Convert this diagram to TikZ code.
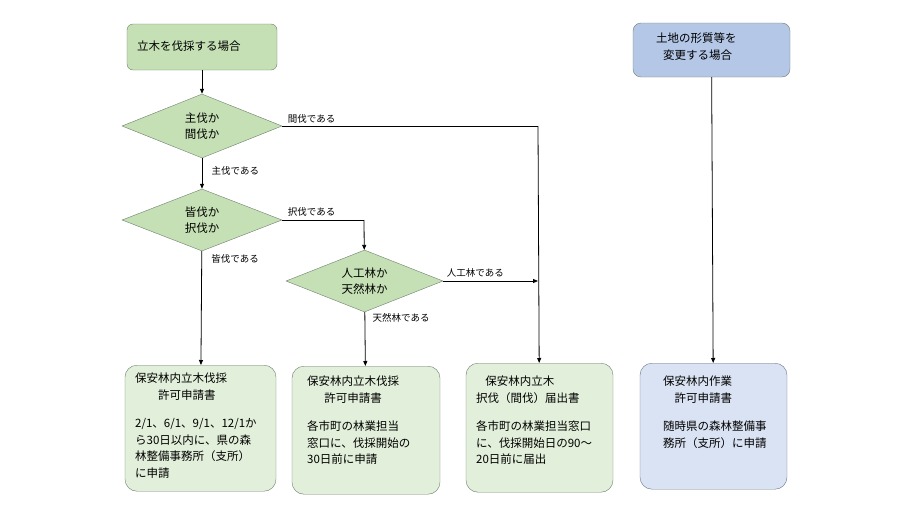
\documentclass[tikz,border=0pt]{standalone}
\usepackage{fontspec}
\setmainfont{Noto Sans CJK JP}
\usetikzlibrary{shapes.geometric,arrows.meta}
\definecolor{gA}{HTML}{C5E0B4}
\definecolor{gB}{HTML}{E2EFDA}
\definecolor{bA}{HTML}{B4C7E7}
\definecolor{bB}{HTML}{DAE3F3}
\definecolor{bd}{HTML}{6F7F6F}
\begin{document}
\begin{tikzpicture}[x=1pt,y=-1pt,font=\fontsize{11.5}{16.5}\selectfont,
 box/.style={draw=bd,rounded corners=12pt,inner sep=0pt},
 txt/.style={anchor=north west,inner sep=0pt,align=left},
 dia/.style={diamond,draw=bd,fill=gA,aspect=2.5,inner sep=0pt,align=center},
 lab/.style={font=\fontsize{9.5}{11}\selectfont,anchor=west},
 arr/.style={-{Triangle[length=5pt,width=4pt]},line width=0.8pt},
 ln/.style={line width=0.8pt}]
\useasboundingbox (0,0) rectangle (913,514);
\node[box,rounded corners=6pt,fill=gA,minimum width=150pt,minimum height=46pt] (s) at (202,47) {};
\node[txt,anchor=west] (st) at (137,46) {立木を伐採する場合};
\node[box,rounded corners=8pt,fill=bA,minimum width=157pt,minimum height=54pt] (t) at (711.5,50) {};
\node[txt] (tt) at (656,33) {土地の形質等を\\\hspace*{0.6em}変更する場合};
\node[dia,minimum width=160pt,minimum height=64pt] (d1) at (202,126) {主伐か\\間伐か};
\node[dia,minimum width=160pt,minimum height=62pt] (d2) at (202,220) {皆伐か\\択伐か};
\node[dia,minimum width=157pt,minimum height=62pt] (d3) at (364.5,281) {人工林か\\天然林か};
\node[box,fill=gB,minimum width=151pt,minimum height=126pt,anchor=north] (a) at (200.5,365) {};
\node[txt] (at) at (135,373) {保安林内立木伐採\\\hspace*{2em}許可申請書\\[12pt]2/1、6/1、9/1、12/1か\\ら30日以内に、県の森\\林整備事務所（支所）\\に申請};
\node[box,fill=gB,minimum width=148pt,minimum height=128pt,anchor=north] (b) at (366,366) {};
\node[txt] (bt) at (307,376) {保安林内立木伐採\\\hspace*{1.5em}許可申請書\\[12pt]各市町の林業担当\\窓口に、伐採開始の\\30日前に申請};
\node[box,fill=gB,minimum width=147pt,minimum height=129pt,anchor=north] (c) at (539.5,363) {};
\node[txt] (ct) at (476,376) {\hspace*{0.8em}保安林内立木\\択伐（間伐）届出書\\[12pt]各市町の林業担当窓口\\に、伐採開始日の90〜\\20日前に届出};
\node[box,draw=bA!60!black,fill=bB,minimum width=147pt,minimum height=126pt,anchor=north] (e) at (713.5,363) {};
\node[txt] (et) at (663,376) {保安林内作業\\\hspace*{1em}許可申請書\\[12pt]随時県の森林整備事\\務所（支所）に申請};
\coordinate (j1) at (538,126);
\coordinate (j2) at (364,220);
\coordinate (j3) at (538,281);
\draw[arr] (s) -- (d1);
\draw[arr] (d1) -- node[lab,pos=0.4,xshift=6pt]{主伐である} (d2);
\draw[arr] (d2) -- node[lab,pos=0.07,xshift=6pt]{皆伐である} (a);
\draw[ln] (d1.east) -- node[lab,pos=0.0,xshift=2pt,yshift=-1pt,anchor=south west]{間伐である} (j1);
\draw[arr] (j1) -- (c);
\draw[ln] (d2.east) -- node[lab,pos=0.0,xshift=2pt,anchor=south west]{択伐である} (j2);
\draw[arr] (j2) -- (d3);
\draw[arr] (d3.east) -- node[lab,pos=0.0,anchor=south west]{人工林である} (j3);
\draw[arr] (d3) -- node[lab,pos=0.1,xshift=4pt]{天然林である} (b);
\draw[arr] (t) -- (e);
\end{tikzpicture}
\end{document}
